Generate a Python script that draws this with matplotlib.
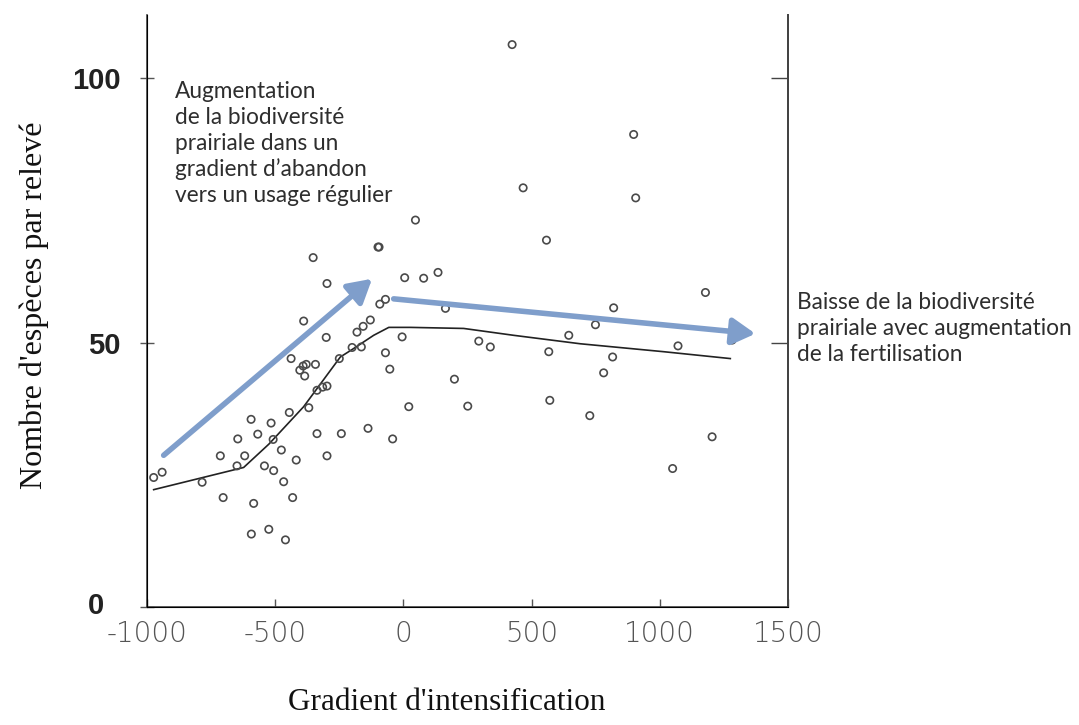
import matplotlib
matplotlib.use("Agg")
import matplotlib.pyplot as plt
from matplotlib.transforms import ScaledTranslation

# ---- data ----
PTS_X = [-974, -941, -785, -714, -703, -646, -649, -619, -594, -568, -584, -593,
         -525, -460, -516, -508, -542, -506, -476, -467, -432, -418, -445, -438,
         -404, -391, -379, -385, -343, -389, -352, -369, -337, -315, -298, -337,
         -298, -301, -298, -242, -250, -200, -164, -181, -157, -129, -138, -99,
         -95, -92, -70, 5, -5, -70, -53, -42, 21, 424, 898, 467, 906, 47, 558,
         79, 135, 164, 820, 1178, 749, 645, 294, 339, 1071, 1282, 567, 816, 781,
         199, 251, 571, 727, 1204, 1050]
PTS_Y = [24.5, 25.5, 23.6, 28.6, 20.7, 31.8, 26.7, 28.6, 35.5, 32.7, 19.6, 13.8,
         14.7, 12.7, 34.8, 31.7, 26.7, 25.8, 29.7, 23.7, 20.7, 27.8, 36.8, 47.0,
         44.8, 45.6, 45.9, 43.7, 45.9, 54.1, 66.1, 37.7, 41.0, 41.6, 41.8, 32.8,
         28.6, 51.0, 61.2, 32.8, 47.0, 49.1, 49.2, 52.0, 53.1, 54.3, 33.8, 68.1,
         68.1, 57.3, 58.2, 62.3, 51.1, 48.1, 45.0, 31.8, 37.9, 106.4, 89.4, 79.3,
         77.4, 73.2, 69.4, 62.2, 63.3, 56.5, 56.6, 59.5, 53.4, 51.4, 50.3, 49.2,
         49.4, 50.5, 48.3, 47.3, 44.3, 43.1, 38.0, 39.1, 36.2, 32.2, 26.2]

LINE_X = [-974, -623, -525, -389, -246, -194, -116, -57, 27, 235, 430, 690, 1015, 1275]
LINE_Y = [22.2, 26.4, 30.8, 37.9, 47.3, 48.9, 51.4, 52.9, 52.9, 52.7, 51.4, 49.8, 48.3, 47.0]

ARROW_UP = [(-935, 28.7), (-122, 62.1)]
ARROW_DOWN = [(-38, 58.3), (1373, 51.7)]

X_TICKS = [-1000, -500, 0, 500, 1000, 1500]
X_TICK_LABELS = ["-1000", "-500", "0", "500", "1000", "1500"]
Y_TICKS = [0, 50, 100]
Y_TICK_LABELS = ["0", "50", "100"]

TEXT_UP = ("Augmentation\nde la biodiversité\nprairiale dans un\n"
           "gradient d\u2019abandon\nvers un usage régulier")
TEXT_DOWN = ("Baisse de la biodiversité\nprairiale avec augmentation\n"
             "de la fertilisation")
X_LABEL = "Gradient d'intensification"
Y_LABEL = "Nombre d'espèces par relevé"

W, H = 1079, 725
fig = plt.figure(figsize=(W / 100, H / 100), dpi=100)
ax = fig.add_axes([147 / W, 1 - 607 / H, (788 - 147) / W, (607 - 15) / H])
ax.set_xlim(-1000, 1500)
ax.set_ylim(0, 112)

# spines
ax.spines["top"].set_visible(False)
for s in ("left", "right", "bottom"):
    ax.spines[s].set_color("#444444")
    ax.spines[s].set_linewidth(1.2)

# scatter
ax.scatter(PTS_X, PTS_Y, s=28, facecolors="none", edgecolors="#4a4a4a",
           linewidths=1.2, zorder=3)
# fitted line
ax.plot(LINE_X, LINE_Y, color="#222222", lw=1.2, zorder=2)

# arrows
arrow_color = "#7f9ecb"
for (p0, p1) in (ARROW_UP, ARROW_DOWN):
    ax.annotate("", xy=p1, xytext=p0,
                arrowprops=dict(arrowstyle="-|>,head_width=0.4,head_length=0.7",
                                color=arrow_color, lw=4, mutation_scale=20,
                                shrinkA=0, shrinkB=0),
                zorder=4)

# ticks
ax.set_xticks(X_TICKS)
ax.set_xticklabels(X_TICK_LABELS, fontsize=20, color="#555555",
                   family="DejaVu Sans", fontweight="light")
ax.tick_params(axis="x", direction="in", length=6, width=1, color="#555555", pad=9)
ax.set_yticks(Y_TICKS)
ax.set_yticklabels(Y_TICK_LABELS, fontsize=21, color="#222222",
                   family="Liberation Sans", fontweight="bold")
ax.tick_params(axis="y", direction="inout", length=10, width=1, color="#555555",
               pad=14)
# the "0" label sits further left (and a touch higher) in the reference
zero_lbl = ax.get_yticklabels()[0]
zero_lbl.set_transform(zero_lbl.get_transform()
                       + ScaledTranslation(-16 / 100, 4 / 100, fig.dpi_scale_trans))

# right-side ticks
ax2 = ax.twinx()
ax2.set_ylim(ax.get_ylim())
ax2.set_yticks([50, 100])
ax2.set_yticklabels([])
ax2.tick_params(axis="y", direction="in", length=12, width=1, color="#444444")
ax2.spines["top"].set_visible(False)
ax2.spines["right"].set_color("#444444")
ax2.spines["right"].set_linewidth(1.4)

# axis labels
fig.text(447 / W, 1 - 703 / H, X_LABEL, ha="center", va="center",
         fontsize=22.5, family="Liberation Serif", color="#111111")
fig.text(34 / W, 1 - 305 / H, Y_LABEL, ha="center", va="center", rotation=90,
         fontsize=23, family="Liberation Serif", color="#111111")

# annotations
fig.text(175 / W, 1 - 81 / H, TEXT_UP, ha="left", va="top", fontsize=16.3,
         family="Lato", color="#2e2e2e", linespacing=1.28)
fig.text(797 / W, 1 - 292 / H, TEXT_DOWN, ha="left", va="top", fontsize=16.3,
         family="Lato", color="#2e2e2e", linespacing=1.28)

fig.savefig("out.png", dpi=100, facecolor="white")
